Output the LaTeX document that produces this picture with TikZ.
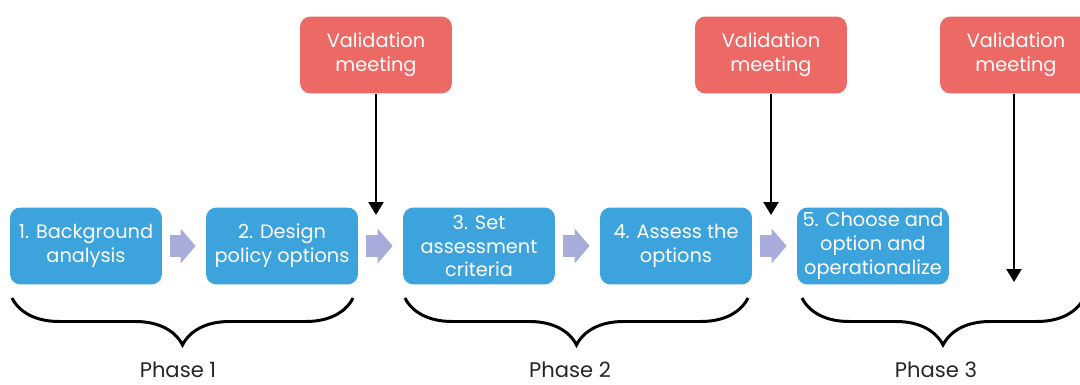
\documentclass[tikz,border=0pt]{standalone}
\usepackage{fontspec}
\setmainfont{Poppins}
\usetikzlibrary{decorations.pathreplacing}
\usetikzlibrary{shapes,positioning}
\usetikzlibrary{arrows.meta}
\definecolor{stepBlue}{HTML}{3DA3DC}
\definecolor{meetRed}{HTML}{EC6966}
\definecolor{flowLav}{HTML}{A8ACDA}
\colorlet{penColor}{black}
\colorlet{phaseText}{black!85}
\tikzset{
  stepbox/.style={rounded corners=6pt, fill=stepBlue, text=white, align=center,
    minimum width=3.04cm, minimum height=1.54cm, inner sep=0pt,
    font=\fontsize{11}{13.6}\selectfont},
  meetbox/.style={stepbox, fill=meetRed},
  flow/.style={line width=0.44cm, flowLav,
    -{Triangle[length=0.3cm,width=0.68cm]}, shorten <=0.16cm, shorten >=0.2cm},
  vline/.style={penColor, line width=1.4pt, -{Triangle[length=0.26cm,width=0.3cm]}},
  phasebrace/.style={penColor, line width=1.7pt,
    decoration={brace,mirror,amplitude=0.94cm}, decorate},
  phaselabel/.style={text=phaseText, font=\fontsize{12}{14}\selectfont}
}
\begin{document}
\begin{tikzpicture}[x=0.02cm,y=-0.02cm]
  \useasboundingbox (0,0) rectangle (1080,385);
  \clip (0,0) rectangle (1080,385);
  % steps
  \node[stepbox] (s1) at (86,246) {1. Background\\analysis};
  \node[stepbox] (s2) at (282,246) {2. Design\\policy options};
  \node[stepbox] (s3) at (479,246) {3. Set\\assessment\\criteria};
  \node[stepbox] (s4) at (676,246) {4. Assess the\\options};
  \node[stepbox] (s5) at (873,246) {5. Choose and\\option and\\operationalize};
  % validation meetings
  \node[meetbox] (m1) at (376,55) {Validation\\meeting};
  \node[meetbox] (m2) at (771,55) {Validation\\meeting};
  \node[meetbox] (m3) at (1016,55) {Validation\\meeting};
  \coordinate (c1) at (376,215);
  \coordinate (c2) at (771,215);
  \coordinate (c3) at (1014,282);
  % flow arrows
  \draw[flow] (s1) -- (s2);
  \draw[flow] (s2) -- (s3);
  \draw[flow] (s3) -- (s4);
  \draw[flow] (s4) -- (s5);
  % meeting arrows
  \draw[vline] (m1) -- (c1);
  \draw[vline] (m2) -- (c2);
  \draw[vline] (m3.south -| c3) -- (c3);
  % phases
  \draw[phasebrace] (12,298) -- (353,298);
  \draw[phasebrace] (405,298) -- (748,298);
  \draw[phasebrace] (802,298) -- (1084,298);
  \node[phaselabel] (p1) at (178,370) {Phase 1};
  \node[phaselabel] (p2) at (570,370) {Phase 2};
  \node[phaselabel] (p3) at (936,370) {Phase 3};
\end{tikzpicture}
\end{document}
